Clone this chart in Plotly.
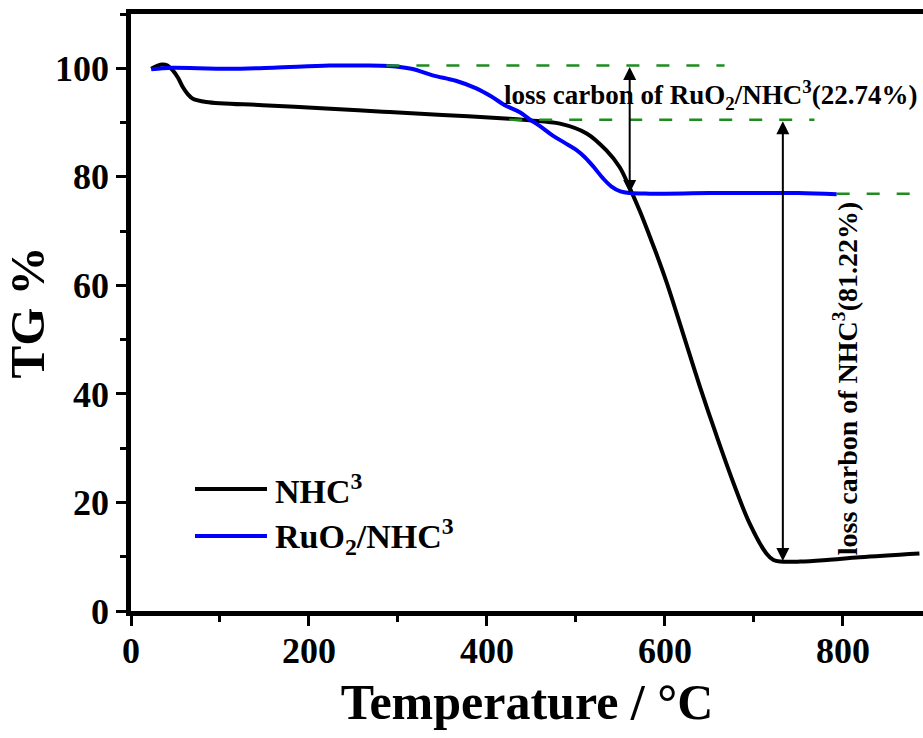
import plotly.graph_objects as go

# ---- data ----
nhc_temp = [22.7, 30, 35.4, 41, 47, 53, 58, 64, 69.5, 84.5, 148, 219, 283, 350, 425, 448,
            482, 512, 534, 549, 560, 572, 583, 590, 602, 620, 639, 658, 677, 695, 714,
            722, 730, 752, 782, 819, 886]
nhc_tg = [99.9, 100.5, 100.7, 100.5, 99.6, 98.2, 96.6, 95.2, 94.4, 93.8, 93.2, 92.6, 92.0,
          91.4, 90.7, 90.4, 89.8, 88.0, 84.9, 81.8, 78.1, 73.6, 69.0, 66.0, 60.5, 51.3,
          41.5, 32.3, 23.6, 16.2, 10.6, 9.4, 9.1, 9.1, 9.4, 9.9, 10.6]

ruo2_temp = [22.7, 35, 47, 110, 160, 223, 260, 290, 315, 339, 365, 388, 405, 420, 437, 448,
             460, 474, 487, 500, 510, 520, 530, 540, 550, 560, 583, 650, 700, 750, 793]
ruo2_tg = [99.8, 100.0, 100.1, 99.9, 100.1, 100.5, 100.5, 100.4, 99.9, 98.7, 97.7, 96.3,
           94.8, 93.2, 91.9, 90.6, 89.3, 87.6, 86.3, 85.0, 83.6, 81.8, 79.8, 78.2, 77.3,
           77.0, 76.9, 77.0, 77.0, 77.0, 76.8]

series_names = ["NHC<sup>3</sup>", "RuO<sub>2</sub>/NHC<sup>3</sup>"]
series_colors = ["#000000", "#0000FF"]

# reference levels (dashed) : (y, x_start, x_end)
levels = [(100.5, 287, 667), (90.5, 425, 768), (76.9, 793, 890)]
# double arrows : (x, y_top, y_bottom)
arrows = [(560.4, 100.5, 77.0), (732.5, 90.5, 9.2)]
label_ruo2 = "loss carbon of RuO<sub>2</sub>/NHC<sup>3</sup>(22.74%)"
label_nhc = "loss carbon of NHC<sup>3</sup>(81.22%)"

FONT = "Liberation Serif"

fig = go.Figure()
fig.add_trace(go.Scatter(x=nhc_temp, y=nhc_tg, mode="lines", name=series_names[0],
                         line=dict(color=series_colors[0], width=4, shape="spline", smoothing=1.0),
                         showlegend=False))
fig.add_trace(go.Scatter(x=ruo2_temp, y=ruo2_tg, mode="lines", name=series_names[1],
                         line=dict(color=series_colors[1], width=4, shape="spline", smoothing=1.0),
                         showlegend=False))

for (yv, x0, x1) in levels:
    fig.add_shape(type="line", xref="x", yref="y", x0=x0, x1=x1, y0=yv, y1=yv,
                  line=dict(color="#1E8C1E", width=2.5, dash="13px,17px"), layer="above")

for (xv, yt, yb) in arrows:
    fig.add_annotation(x=xv, y=yb, ax=xv, ay=yt, xref="x", yref="y", axref="x", ayref="y",
                       text="", showarrow=True, arrowhead=2, arrowside="end+start",
                       arrowsize=1.3, arrowwidth=2, arrowcolor="black", standoff=0, startstandoff=0)

fig.add_annotation(x=417, y=95.1, xref="x", yref="y", xanchor="left", yanchor="middle",
                   text=label_ruo2, showarrow=False,
                   font=dict(family=FONT, size=27, color="black", weight="bold"))
fig.add_annotation(x=803, y=42.8, xref="x", yref="y", xanchor="center", yanchor="middle",
                   text=label_nhc, showarrow=False, textangle=-90,
                   font=dict(family=FONT, size=28, color="black", weight="bold"))

# manual legend
leg_y = [0.2044, 0.1256]
for i in range(2):
    fig.add_shape(type="line", xref="paper", yref="paper", x0=0.0808, x1=0.1717,
                  y0=leg_y[i], y1=leg_y[i], line=dict(color=series_colors[i], width=4))
    fig.add_annotation(x=0.1793, y=leg_y[i], xref="paper", yref="paper", xanchor="left",
                       yanchor="middle", text=series_names[i], showarrow=False,
                       font=dict(family=FONT, size=34, color="black", weight="bold"))

axis_common = dict(showline=True, linewidth=4.5, linecolor="black", ticks="outside",
                   ticklen=10, tickwidth=3, tickcolor="black", showgrid=False, zeroline=False,
                   tickfont=dict(family=FONT, size=36, color="black", weight="bold"))

fig.update_xaxes(range=[0, 890], tick0=0, dtick=200, mirror=True, ticklabelstandoff=-6,
                 minor=dict(dtick=100, ticks="outside", ticklen=6, tickwidth=3, tickcolor="black"),
                 title=dict(text="Temperature / °C", standoff=16,
                            font=dict(family=FONT, size=50, color="black", weight="bold")),
                 **axis_common)
fig.update_yaxes(range=[0, 110], tick0=0, dtick=20,
                 minor=dict(dtick=10, ticks="outside", ticklen=6, tickwidth=3, tickcolor="black"),
                 title=dict(text="TG %", standoff=2,
                            font=dict(family=FONT, size=49, color="black", weight="bold")),
                 **axis_common)

fig.update_layout(width=923, height=738, margin=dict(l=131, r=0, t=14, b=127),
                  plot_bgcolor="white", paper_bgcolor="white",
                  font=dict(family=FONT, color="black", weight="bold"))

fig.write_html("out.html")
